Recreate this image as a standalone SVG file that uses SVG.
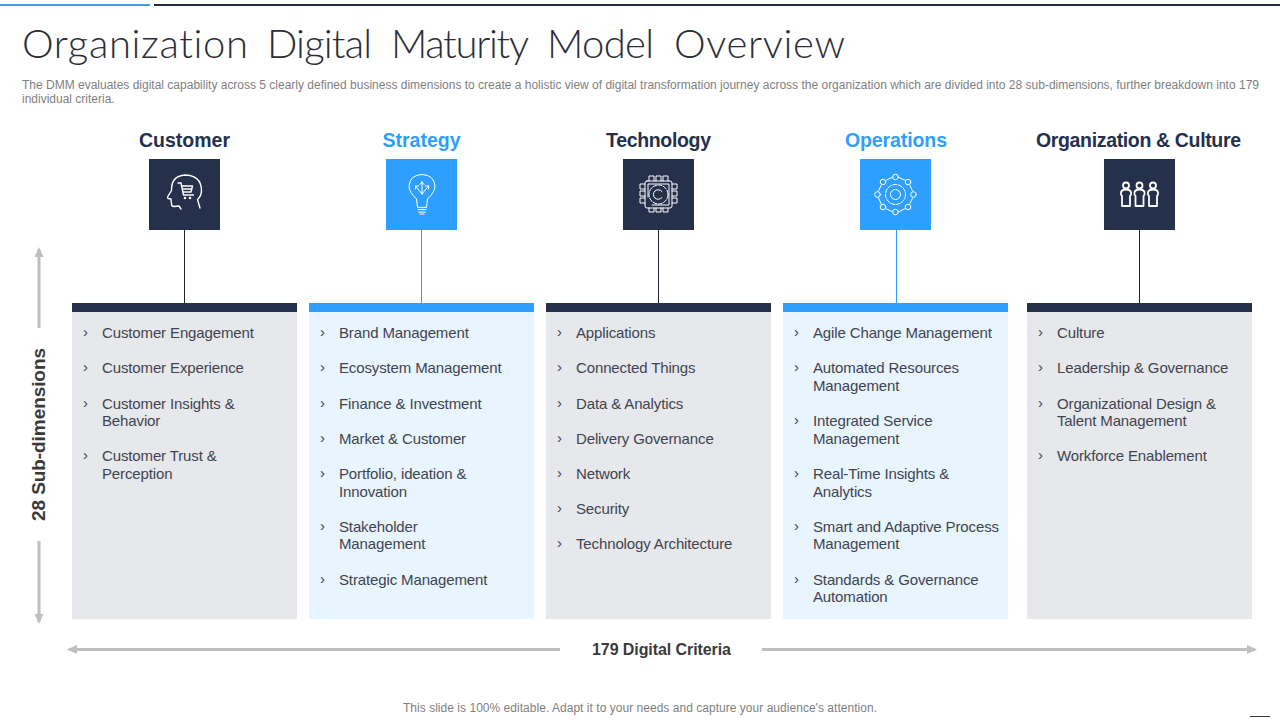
<svg xmlns="http://www.w3.org/2000/svg" width="1280" height="720" viewBox="0 0 1280 720">
<style>
text{font-family:"Liberation Sans",Arial,sans-serif}
.title{font-family:Lato,"Liberation Sans",sans-serif;font-size:40px;font-weight:300;fill:#2b2e36;font-variant-ligatures:none}
.desc{font-size:12px;fill:#7f7f7f}
.head{font-size:19.500px;font-weight:700;text-anchor:middle}
.navy{fill:#25304b}.blue{fill:#2e9fff}
.it{font-size:15px;fill:#3f4450;letter-spacing:-.13px}
.chev{font-size:15px;fill:#3f4450}
.lab{font-size:16px;font-weight:700;fill:#3a3a3a}
.foot{font-size:12px;fill:#7f7f7f;text-anchor:middle}
.grey{fill:#e7e8ec}.pale{fill:#e8f4fe}
.ic{fill:none;stroke:#fff;stroke-width:1.400;stroke-linecap:round;stroke-linejoin:round}
.thin{stroke-width:1}
.ar{stroke:#bfbfbf;stroke-width:3;fill:none}
</style>
<defs>
<marker id="ah" markerWidth="11" markerHeight="10" refX="8" refY="4.500" orient="auto-start-reverse" markerUnits="userSpaceOnUse"><path d="M0 0L10 4.500L0 9Z" fill="#bfbfbf"/></marker>
</defs>
<rect x="0" y="4" width="150" height="2" fill="#3fa0dc"/>
<rect x="154" y="4" width="1126" height="2" fill="#232b3d"/>
<text class="title" y="58"><tspan x="22" textLength="226">Organization</tspan> <tspan x="267" textLength="105">Digital</tspan> <tspan x="391" textLength="137">Maturity</tspan> <tspan x="547" textLength="107">Model</tspan> <tspan x="674" textLength="171">Overview</tspan></text>
<text class="desc" x="22" y="89" textLength="1237" lengthAdjust="spacing">The DMM  evaluates digital capability across 5 clearly defined business dimensions to create a holistic view of digital transformation journey across the organization which are divided into 28 sub-dimensions, further breakdown into 179</text>
<text class="desc" x="22" y="103">individual criteria.</text>

<g id="connectors" stroke-width="1">
<line x1="184.500" y1="230" x2="184.500" y2="303" stroke="#20242e"/>
<line x1="421.500" y1="230" x2="421.500" y2="303" stroke="#2e9fff"/>
<line x1="658.500" y1="230" x2="658.500" y2="303" stroke="#20242e"/>
<line x1="896.500" y1="230" x2="896.500" y2="303" stroke="#2e9fff"/>
<line x1="1139.500" y1="230" x2="1139.500" y2="303" stroke="#20242e"/>
<line class="ar" x1="39" y1="328" x2="39" y2="249" marker-end="url(#ah)"/>
<line class="ar" x1="39" y1="541" x2="39" y2="622" marker-end="url(#ah)"/>
<line class="ar" x1="560" y1="649.500" x2="69" y2="649.500" marker-end="url(#ah)"/>
<line class="ar" x1="762" y1="649.500" x2="1255" y2="649.500" marker-end="url(#ah)"/>
</g>

<g id="customer">
<text class="head" x="184.500" y="147" fill="#25304b" textLength="91">Customer</text>
<rect class="navy" x="149" y="159" width="71" height="71"/>
<g class="ic">
<path d="M181 209L179 206L174 206.500Q171.500 206.500 171.500 204L171 199L168 198.500L167.500 197L171.500 190.500Q171 176 185 175Q201 175.500 201.500 190Q201.500 196 197.500 199.500L200 208"/>
<path d="M178 183L181 183L183.500 195L193.500 195M182 186L192.500 186L191 192L183 192M183 189L192 189"/>
<circle cx="185" cy="198" r=".6"/><circle cx="190" cy="198" r=".6"/>
</g>
<rect class="grey" x="72" y="303" width="225" height="316"/>
<rect class="navy" x="72" y="303" width="225" height="9"/>
<g>
<text class="chev" x="83" y="337">›</text><text class="it" x="102" y="338">Customer Engagement</text>
<text class="chev" x="83" y="372">›</text><text class="it" x="102" y="373">Customer Experience</text>
<text class="chev" x="83" y="408">›</text><text class="it" x="102" y="409">Customer Insights &amp;</text><text class="it" x="102" y="426">Behavior</text>
<text class="chev" x="83" y="460">›</text><text class="it" x="102" y="461">Customer Trust &amp;</text><text class="it" x="102" y="479">Perception</text>
</g>
</g>

<g id="strategy">
<text class="head" x="421.500" y="147" fill="#2e9fff" textLength="78">Strategy</text>
<rect class="blue" x="386" y="159" width="71" height="71"/>
<g class="ic thin">
<path d="M417.500 207L416.500 199Q409 192 409 186Q410 175 422 174.500Q434 175 435 186Q435 192 427.500 199L426.500 207Z"/>
<path d="M418 209.500H426M418.500 212H425.500M420 214H424"/>
<path d="M422 194V182M422 182L420 184.500M422 182L424 184.500M422 194L415.500 186M415.500 186V189M415.500 186H418.500M422 194L428.500 186M428.500 186V189M428.500 186H425.500"/>
</g>
<rect class="pale" x="309" y="303" width="225" height="316"/>
<rect class="blue" x="309" y="303" width="225" height="9"/>
<g>
<text class="chev" x="320" y="337">›</text><text class="it" x="339" y="338">Brand Management</text>
<text class="chev" x="320" y="372">›</text><text class="it" x="339" y="373">Ecosystem Management</text>
<text class="chev" x="320" y="408">›</text><text class="it" x="339" y="409">Finance &amp; Investment</text>
<text class="chev" x="320" y="443">›</text><text class="it" x="339" y="444">Market &amp; Customer</text>
<text class="chev" x="320" y="478">›</text><text class="it" x="339" y="479">Portfolio, ideation &amp;</text><text class="it" x="339" y="497">Innovation</text>
<text class="chev" x="320" y="531">›</text><text class="it" x="339" y="532">Stakeholder</text><text class="it" x="339" y="549">Management</text>
<text class="chev" x="320" y="584">›</text><text class="it" x="339" y="585">Strategic Management</text>
</g>
</g>

<g id="technology">
<text class="head" x="658.500" y="147" fill="#25304b" textLength="105">Technology</text>
<rect class="navy" x="623" y="159" width="71" height="71"/>
<g class="ic thin">
<rect x="645" y="181" width="27" height="27" rx="2"/>
<path d="M648 197V184H669V205H652"/>
<path d="M649 181V176H654V181M656 181V176H661V181M663 181V176H668V181M649 208V212H654V208M656 208V212H661V208M663 208V212H668V208M645 184H640V189H645M645 191H640V196H645M645 198H640V203H645M672 184H677V189H672M672 191H677V196H672M672 198H677V203H672"/>
<circle cx="658.500" cy="194.500" r="9.500" stroke-dasharray="4 1.500"/>
<path d="M662 191.500A4.800 4.800 0 1 0 662 197.500"/>
</g>
<rect class="grey" x="546" y="303" width="225" height="316"/>
<rect class="navy" x="546" y="303" width="225" height="9"/>
<g>
<text class="chev" x="557" y="337">›</text><text class="it" x="576" y="338">Applications</text>
<text class="chev" x="557" y="372">›</text><text class="it" x="576" y="373">Connected Things</text>
<text class="chev" x="557" y="408">›</text><text class="it" x="576" y="409">Data &amp; Analytics</text>
<text class="chev" x="557" y="443">›</text><text class="it" x="576" y="444">Delivery Governance</text>
<text class="chev" x="557" y="478">›</text><text class="it" x="576" y="479">Network</text>
<text class="chev" x="557" y="513">›</text><text class="it" x="576" y="514">Security</text>
<text class="chev" x="557" y="548">›</text><text class="it" x="576" y="549">Technology Architecture</text>
</g>
</g>

<g id="operations">
<text class="head" x="896" y="147" fill="#2e9fff" textLength="102">Operations</text>
<rect class="blue" x="860" y="159" width="71" height="71"/>
<g class="ic thin">
<circle cx="895.500" cy="177" r="2.800"/><circle cx="908" cy="182" r="2.800"/><circle cx="913.500" cy="194.500" r="2.800"/><circle cx="908" cy="207" r="2.800"/><circle cx="895.500" cy="212" r="2.800"/><circle cx="883" cy="207" r="2.800"/><circle cx="877.500" cy="194.500" r="2.800"/><circle cx="883" cy="182" r="2.800"/>
<path d="M899 177.500L904.500 180M910 185.500L912.500 191M912.500 198L910 203.500M904.500 209L899 211.500M892 211.500L886.500 209M881 203.500L878.500 198M878.500 191L881 185.500M886.500 180L892 177.500"/>
<circle cx="895.500" cy="194.500" r="10" stroke-dasharray="4 1.500"/>
<circle cx="895.500" cy="194.500" r="5"/>
</g>
<rect class="pale" x="783" y="303" width="225" height="316"/>
<rect class="blue" x="783" y="303" width="225" height="9"/>
<g>
<text class="chev" x="794" y="337">›</text><text class="it" x="813" y="338">Agile Change Management</text>
<text class="chev" x="794" y="372">›</text><text class="it" x="813" y="373">Automated Resources</text><text class="it" x="813" y="391">Management</text>
<text class="chev" x="794" y="425">›</text><text class="it" x="813" y="426">Integrated Service</text><text class="it" x="813" y="444">Management</text>
<text class="chev" x="794" y="478">›</text><text class="it" x="813" y="479">Real-Time Insights &amp;</text><text class="it" x="813" y="497">Analytics</text>
<text class="chev" x="794" y="531">›</text><text class="it" x="813" y="532">Smart and Adaptive  Process</text><text class="it" x="813" y="549">Management</text>
<text class="chev" x="794" y="584">›</text><text class="it" x="813" y="585">Standards &amp; Governance</text><text class="it" x="813" y="602">Automation</text>
</g>
</g>

<g id="organization-culture">
<text class="head" x="1138.500" y="147" fill="#25304b" textLength="205">Organization &amp; Culture</text>
<rect class="navy" x="1104" y="159" width="71" height="71"/>
<g class="ic" style="stroke-width:1.800">
<circle cx="1126" cy="185.500" r="3"/><circle cx="1139.500" cy="185.500" r="3"/><circle cx="1153" cy="185.500" r="3"/>
<path d="M1122 206V196Q1120.500 195 1121 192Q1122 189.500 1126 189.500Q1130 189.500 1131 192Q1131.500 195 1130 196V206Z"/>
<path d="M1135.500 206V196Q1134 195 1134.500 192Q1135.500 189.500 1139.500 189.500Q1143.500 189.500 1144.500 192Q1145 195 1143.500 196V206Z"/>
<path d="M1149 206V196Q1147.500 195 1148 192Q1149 189.500 1153 189.500Q1157 189.500 1158 192Q1158.500 195 1157 196V206Z"/>
</g>
<rect class="grey" x="1027" y="303" width="225" height="316"/>
<rect class="navy" x="1027" y="303" width="225" height="9"/>
<g>
<text class="chev" x="1038" y="337">›</text><text class="it" x="1057" y="338">Culture</text>
<text class="chev" x="1038" y="372">›</text><text class="it" x="1057" y="373">Leadership &amp; Governance</text>
<text class="chev" x="1038" y="408">›</text><text class="it" x="1057" y="409">Organizational Design &amp;</text><text class="it" x="1057" y="426">Talent Management</text>
<text class="chev" x="1038" y="460">›</text><text class="it" x="1057" y="461">Workforce Enablement</text>
</g>
</g>

<text font-size="19" font-weight="700" fill="#3a3a3a" transform="translate(45,434.500) rotate(-90)" text-anchor="middle" textLength="173">28 Sub-dimensions</text>
<text class="lab" x="661.500" y="655" text-anchor="middle" textLength="139">179 Digital Criteria</text>
<text class="foot" x="640" y="712" textLength="474">This slide is 100% editable. Adapt it to your needs and capture your audience's attention.</text>
<rect x="1250" y="716" width="20" height="1" fill="#3a3a3a"/>
</svg>
